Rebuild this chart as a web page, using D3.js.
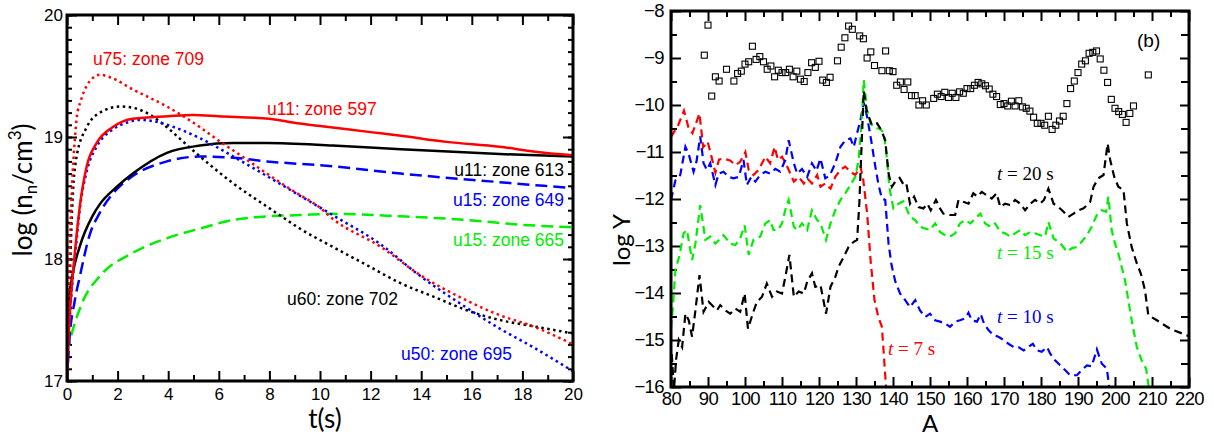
<!DOCTYPE html>
<html>
<head>
<meta charset="utf-8">
<script src="https://cdn.jsdelivr.net/npm/d3@7"></script>
<style>
  body { margin: 0; background: #fff; }
</style>
</head>
<body>
<div id="container"></div>
<script>
/* DATA: left panel, log neutron density vs time, [t (s), log n] */
const u11zone597 = [[0,17.0],[0.05,17.3],[0.12,17.58],[0.2,17.8],[0.32,18.07],[0.5,18.42],[0.78,18.76],[1.17,18.95],[1.8,19.08],[2.6,19.15],[4,19.17],[5,19.18],[6,19.17],[8,19.15],[9.2,19.11],[10,19.09],[12,19.04],[13.2,19.01],[15,18.96],[17.1,18.92],[18.5,18.88],[20,18.85]];
const u75zone709 = [[0,17.0],[0.05,17.5],[0.1,18.0],[0.2,18.6],[0.3,18.95],[0.38,19.15],[0.55,19.3],[0.78,19.42],[1.0,19.48],[1.3,19.51],[1.7,19.49],[2.6,19.39],[3.95,19.25],[5.26,19.08],[6,18.97],[7,18.83],[7.9,18.7],[9,18.55],[10,18.42],[10.5,18.33],[12.4,18.1],[13.95,17.87],[15.8,17.66],[17.1,17.54],[18.4,17.45],[20,17.3]];
const u60zone702 = [[0,17.0],[0.05,17.4],[0.1,17.75],[0.2,18.4],[0.38,18.84],[0.78,19.08],[1.3,19.2],[2.1,19.25],[2.6,19.24],[3.3,19.18],[3.95,19.08],[4.6,18.96],[5.26,18.84],[6.57,18.62],[7.9,18.43],[8.4,18.36],[9.2,18.25],[10.5,18.1],[11.85,17.95],[13.2,17.8],[14.5,17.69],[15.8,17.58],[17.1,17.5],[18.4,17.45],[20,17.39]];
const u50zone695 = [[0,17.0],[0.05,17.3],[0.12,17.55],[0.2,17.78],[0.32,18.03],[0.5,18.4],[0.78,18.72],[1.17,18.92],[1.8,19.06],[2.4,19.12],[2.9,19.14],[3.4,19.13],[3.95,19.1],[5.26,18.99],[6.57,18.84],[7.9,18.68],[9.2,18.52],[10.5,18.36],[12.4,18.12],[13.9,17.87],[15.8,17.6],[17.1,17.43],[18.4,17.28],[20,17.08]];
const u11zone613 = [[0,17.0],[0.05,17.6],[0.2,17.85],[0.5,18.1],[1.0,18.35],[1.3,18.45],[1.96,18.59],[2.6,18.7],[3.95,18.87],[5.26,18.93],[6.57,18.95],[7.9,18.95],[10.5,18.93],[13.2,18.9],[17.1,18.86],[20,18.84]];
const u15zone649 = [[0,17.0],[0.1,17.35],[0.3,17.65],[0.5,17.85],[0.9,18.2],[1.3,18.38],[1.96,18.57],[2.6,18.68],[3.95,18.8],[5.26,18.84],[6.57,18.83],[7.9,18.8],[10.5,18.76],[13.2,18.7],[17.1,18.63],[20,18.58]];
const u15zone665 = [[0,17.23],[0.19,17.39],[0.64,17.66],[1.3,17.86],[2.6,18.05],[3.95,18.17],[5.26,18.25],[6.57,18.32],[7.9,18.35],[9.2,18.36],[10.5,18.37],[13.2,18.35],[15.8,18.32],[18,18.28],[20,18.26]];

/* DATA: right panel, log Y vs mass number A */
const obsA = [89,90,91,92,93,95,97,98,99,100,101,102,103,104,105,106,107,108,109,110,111,112,113,114,115,116,117,118,119,120,121,122,123,125,126,127,128,129,131,132,133,134,135,137,138,139,140,141,142,143,144,145,146,147,148,149,151,152,153,154,155,156,157,158,159,160,161,162,163,164,165,166,167,168,169,170,171,172,173,174,175,176,177,178,179,180,181,182,183,184,185,186,187,188,189,190,191,192,193,194,195,196,197,198,199,200,201,202,203,204,205,209];
const obsLogY = [-8.94,-8.30,-9.81,-9.40,-9.49,-9.24,-9.49,-9.33,-9.28,-9.13,-9.08,-8.75,-9.03,-8.97,-9.08,-9.24,-9.17,-9.40,-9.26,-9.31,-9.31,-9.24,-9.40,-9.28,-9.45,-9.50,-9.31,-9.10,-9.20,-9.07,-9.47,-9.52,-9.41,-9.06,-8.77,-8.57,-8.32,-8.39,-8.53,-8.59,-9.00,-8.87,-9.16,-9.27,-8.85,-9.27,-9.29,-9.58,-9.51,-9.67,-9.51,-9.80,-9.80,-10.00,-9.91,-10.00,-9.86,-9.77,-9.82,-9.73,-9.84,-9.75,-9.84,-9.72,-9.75,-9.65,-9.65,-9.58,-9.52,-9.55,-9.59,-9.66,-9.77,-9.82,-9.99,-9.97,-10.02,-9.92,-10.02,-9.91,-10.04,-10.07,-10.13,-10.26,-10.39,-10.39,-10.43,-10.24,-10.52,-10.43,-10.34,-10.24,-9.97,-9.65,-9.49,-9.31,-9.13,-9.06,-8.90,-8.88,-8.85,-9.02,-9.26,-9.52,-9.88,-10.07,-10.14,-10.20,-10.37,-10.18,-10.02,-9.36];

const t7s = [[80,-10.68],[81,-10.55],[82,-10.42],[83.5,-10.12],[84.8,-10.5],[85.8,-10.6],[87.7,-10.18],[88.7,-10.9],[89.9,-10.78],[90.7,-11.02],[92,-11.44],[93,-11.16],[94.2,-11.14],[96,-11.18],[97.4,-11.28],[98.7,-11.21],[100.1,-11.0],[101,-11.38],[102.3,-11.49],[103.7,-11.38],[105.5,-11.1],[106.8,-11.24],[108,-10.89],[108.9,-11.17],[110,-11.1],[111.4,-11.31],[113.2,-11.63],[114.5,-11.53],[115.9,-11.67],[116.8,-11.56],[118.1,-11.67],[119.5,-11.49],[120.4,-11.74],[121.7,-11.67],[123.1,-11.78],[124.4,-11.53],[125.8,-11.38],[127.1,-11.31],[128.5,-11.42],[129.8,-11.49],[131.2,-11.31],[131.9,-11.55],[133,-12.3],[134,-13.36],[135,-14.15],[136,-14.5],[137,-14.72],[138.3,-16.2]];
const t10s = [[80,-12.02],[81.2,-11.6],[82.5,-11.49],[83.9,-10.89],[84.8,-11.05],[86.1,-11.42],[86.9,-11.2],[87.9,-10.67],[88.8,-11.24],[89.7,-11.38],[90.6,-11.24],[92,-11.7],[92.9,-11.46],[94.2,-11.42],[95.6,-11.53],[96.9,-11.56],[98.3,-11.53],[99.6,-11.17],[100.5,-11.7],[101.7,-11.53],[102.8,-11.63],[104.1,-11.49],[105.5,-11.42],[106.8,-11.46],[108.2,-11.36],[109.5,-11.42],[110.9,-11.17],[111.8,-10.75],[113.2,-11.24],[114.1,-11.46],[115.4,-11.36],[116.8,-11.53],[118.1,-11.24],[119.3,-11.4],[120.4,-11.14],[121.7,-11.56],[122.9,-11.5],[124.4,-11.24],[125.8,-10.89],[127.1,-10.75],[128.5,-10.71],[129.4,-10.89],[130.3,-10.6],[131.2,-10.32],[132.1,-9.95],[133,-10.25],[134.1,-10.75],[135.2,-11.3],[136.1,-11.7],[137,-11.99],[137.9,-12.02],[138.8,-12.95],[139.6,-13.4],[140.6,-13.75],[141.9,-14.01],[143.3,-14.15],[144.6,-14.3],[146,-14.15],[147.3,-14.37],[148.7,-14.51],[150,-14.44],[151.4,-14.58],[152.7,-14.61],[154.1,-14.65],[155.4,-14.72],[156.8,-14.61],[158.1,-14.58],[159.5,-14.54],[160.4,-14.42],[161.3,-14.58],[162.7,-14.61],[163.7,-14.45],[164.6,-14.65],[165.8,-14.79],[167.2,-14.9],[168.5,-14.93],[169.9,-15.0],[171.2,-15.08],[172.6,-15.15],[173.9,-15.15],[175.3,-15.22],[176.6,-15.15],[177.8,-15.08],[178.9,-15.22],[180.2,-15.25],[181.6,-15.15],[182.5,-15.29],[183.8,-15.43],[185.2,-15.54],[186.5,-15.64],[187.9,-15.75],[189.7,-15.75],[191,-15.64],[192.4,-15.54],[193.7,-15.56],[195.1,-15.2],[196.4,-15.5],[197.8,-15.61],[198.6,-16.1]];
const t15s = [[80,-14.75],[80.6,-14.2],[81.2,-13.51],[82.3,-13.2],[83.4,-12.73],[84.3,-12.66],[85.7,-13.3],[86.6,-12.95],[87.9,-12.13],[89.3,-12.87],[90.6,-12.8],[92,-12.95],[94.2,-12.77],[96,-12.95],[97.4,-12.98],[98.7,-12.84],[99.9,-12.56],[101,-13.19],[102.3,-12.87],[104.1,-12.8],[105.5,-12.52],[106.8,-12.45],[107.7,-12.66],[108.9,-12.66],[110,-12.52],[111.1,-12.17],[111.8,-12.02],[113.2,-12.59],[114.1,-12.66],[115.4,-12.52],[116.8,-12.66],[118.1,-12.24],[119.5,-12.45],[120.4,-12.52],[121.9,-12.87],[123.1,-12.52],[124.4,-12.24],[125.8,-12.02],[127.1,-11.88],[128.5,-11.7],[129.8,-11.53],[130.7,-11.17],[131.5,-10.4],[132.1,-9.47],[133,-10.11],[133.9,-10.39],[135.2,-10.5],[136.3,-10.5],[137.5,-10.58],[138.4,-11.17],[139,-11.74],[140.1,-12.2],[141.5,-12.1],[142.8,-12.05],[144.6,-12.38],[146,-12.45],[147.3,-12.59],[148.7,-12.63],[150,-12.66],[151.4,-12.52],[152.7,-12.7],[154.1,-12.77],[155.4,-12.8],[156.8,-12.73],[158.1,-12.52],[159.5,-12.45],[160.9,-12.52],[162.2,-12.42],[163.6,-12.31],[164.9,-12.52],[166.3,-12.59],[167.6,-12.52],[169,-12.7],[170.3,-12.73],[171.7,-12.8],[173,-12.73],[174.4,-12.66],[175.7,-12.77],[177.1,-12.7],[178.4,-12.73],[179.8,-12.77],[181.1,-12.8],[182,-12.49],[183.4,-12.84],[184.7,-12.91],[185.6,-12.98],[187,-13.12],[188.3,-13.05],[189.7,-13.02],[191,-12.91],[192.4,-12.77],[193.7,-12.59],[195.1,-12.34],[196.4,-12.24],[197.6,-12.27],[198.2,-11.95],[199.1,-12.66],[200,-12.95],[200.9,-13.16],[201.8,-13.44],[202.7,-13.73],[203.6,-14.15],[204.5,-14.58],[205.9,-15.15],[207.2,-15.43],[208.4,-15.61],[209.3,-16.1]];
const t20s = [[80.2,-15.3],[80.8,-16.05],[81.4,-15.4],[82.1,-15.0],[83,-15.15],[83.9,-14.44],[84.8,-14.58],[85.7,-14.93],[86.6,-14.37],[87.7,-13.62],[88.8,-14.4],[90.2,-14.19],[91.1,-14.26],[92.4,-14.37],[93.3,-14.26],[94.7,-14.37],[96,-14.44],[97.4,-14.33],[98.7,-14.4],[99.9,-14.01],[100.8,-14.76],[102.1,-14.44],[103.2,-14.19],[104.6,-14.08],[105.9,-13.8],[107.3,-14.08],[108.6,-13.97],[110,-14.01],[110.9,-13.66],[112,-13.19],[113.2,-14.08],[114.5,-13.97],[115.9,-14.01],[116.8,-13.76],[118.1,-13.58],[119,-13.87],[120.4,-13.83],[121.9,-14.44],[123.1,-13.87],[124.4,-13.66],[125.3,-13.44],[126.7,-13.23],[128,-13.02],[129.4,-12.91],[130.3,-12.87],[130.9,-12.09],[131.6,-10.67],[132.1,-9.7],[132.8,-10.1],[134.3,-10.43],[135.7,-10.39],[136.8,-10.53],[137.9,-10.75],[138.8,-11.46],[139.7,-11.74],[140.6,-11.63],[141.8,-11.55],[142.9,-11.7],[143.6,-11.67],[144.6,-12.1],[145.7,-11.95],[146.9,-12.17],[148.2,-12.2],[149.3,-12.1],[150.2,-12.24],[151.6,-12.02],[152.7,-12.2],[153.6,-12.31],[155.4,-12.34],[156.8,-12.34],[157.7,-12.02],[159,-12.06],[160.4,-12.1],[161.7,-11.88],[162.8,-11.95],[164,-11.85],[165.3,-11.92],[166.7,-11.99],[168,-11.88],[169,-12.17],[170.3,-12.1],[171.7,-12.13],[173,-12.02],[174.4,-12.1],[175.7,-12.24],[177.1,-12.1],[178.4,-12.02],[179.8,-12.1],[180.8,-12.02],[182,-11.78],[183.4,-12.1],[184.7,-12.17],[186.1,-12.27],[187.4,-12.38],[188.8,-12.31],[190.1,-12.24],[191.5,-12.2],[193.3,-12.06],[194.2,-11.74],[195.5,-11.56],[196.9,-11.49],[198,-10.82],[198.7,-11.17],[199.8,-11.53],[200.9,-11.74],[202.3,-11.81],[203.2,-12.52],[204.5,-13.02],[205.9,-13.37],[207,-13.59],[208.1,-13.94],[209,-14.47],[211.3,-14.58],[214.9,-14.76],[220,-14.92]];

/* tick values */
const leftXTicks = d3.range(0, 21, 2);
const leftXMinor = d3.range(1, 20, 2);
const leftYTicks = [17, 18, 19, 20];
const leftYMinor = d3.range(17, 20.001, 0.1);
const rightXTicks = d3.range(80, 221, 10);
const rightXMinor = d3.range(85, 220, 10);
const rightYTicks = d3.range(-16, -7, 1);
const rightYMinor = d3.range(-15.5, -8, 1);

const RED = '#ff0000', BLUE = '#0000ff', GREEN = '#00ee00', BLACK = '#000';

const svg = d3.select('#container')
  .append('svg')
  .attr('width', 1214)
  .attr('height', 439)
  .style('font-family', '"Liberation Sans", Arial, sans-serif');

// Panel boxes (pixel extents)
const L = { x0: 67, x1: 573, y0: 15, y1: 381 };
const R = { x0: 671, x1: 1189, y0: 11, y1: 387 };

const xL = d3.scaleLinear().domain([0, 20]).range([L.x0, L.x1]);
const yL = d3.scaleLinear().domain([17, 20]).range([L.y1, L.y0]);
const xR = d3.scaleLinear().domain([80, 220]).range([R.x0, R.x1]);
const yR = d3.scaleLinear().domain([-16, -8]).range([R.y1, R.y0]);

// clip paths
const defs = svg.append('defs');
defs.append('clipPath').attr('id', 'clipL').append('rect')
  .attr('x', L.x0).attr('y', L.y0).attr('width', L.x1 - L.x0).attr('height', L.y1 - L.y0);
defs.append('clipPath').attr('id', 'clipR').append('rect')
  .attr('x', R.x0).attr('y', R.y0).attr('width', R.x1 - R.x0).attr('height', R.y1 - R.y0);

const intFmt = d3.format('d');

// draw one axis side with ticks pointing inward
function side(axisFn, scale, tr, values, size, labels, fontSize, pad) {
  const ax = axisFn(scale).tickValues(values).tickSizeInner(-size).tickSizeOuter(0).tickPadding(pad || 4);
  ax.tickFormat(labels ? intFmt : '');
  const g = svg.append('g').attr('transform', tr).call(ax);
  g.select('.domain').remove();
  g.attr('font-family', '"Liberation Sans", Arial, sans-serif').attr('font-size', fontSize);
  g.selectAll('line').attr('stroke', '#000').attr('stroke-width', 2);
  g.selectAll('text').attr('fill', '#000');
  return g;
}

/* ---- LEFT PANEL ---- */
side(d3.axisBottom, xL, `translate(0,${L.y1})`, leftXTicks, 10, true, 17, 7);
side(d3.axisBottom, xL, `translate(0,${L.y1})`, leftXMinor, 6, false, 17);
side(d3.axisTop, xL, `translate(0,${L.y0})`, leftXTicks, 10, false, 17);
side(d3.axisTop, xL, `translate(0,${L.y0})`, leftXMinor, 6, false, 17);
side(d3.axisLeft, yL, `translate(${L.x0},0)`, leftYTicks, 10, true, 17, 4);
side(d3.axisLeft, yL, `translate(${L.x0},0)`, leftYMinor, 5, false, 17);
side(d3.axisRight, yL, `translate(${L.x1},0)`, leftYTicks, 10, false, 17);
side(d3.axisRight, yL, `translate(${L.x1},0)`, leftYMinor, 5, false, 17);

const lineL = d3.line().x(d => xL(d[0])).y(d => yL(d[1])).curve(d3.curveMonotoneX);
const gL = svg.append('g').attr('clip-path', 'url(#clipL)');

const leftSeries = [
  { data: u15zone665, color: GREEN, dash: '12,6' },
  { data: u15zone649, color: BLUE, dash: '12,6' },
  { data: u11zone613, color: BLACK, dash: null },
  { data: u60zone702, color: BLACK, dash: '2.5,3.5' },
  { data: u50zone695, color: BLUE, dash: '2.5,3.5' },
  { data: u75zone709, color: RED, dash: '2.5,3.5' },
  { data: u11zone597, color: RED, dash: null }
];
leftSeries.forEach(s => {
  gL.append('path')
    .datum(s.data)
    .attr('d', lineL)
    .attr('fill', 'none')
    .attr('stroke', s.color)
    .attr('stroke-width', 2.5)
    .attr('stroke-dasharray', s.dash);
});

svg.append('rect')
  .attr('x', L.x0).attr('y', L.y0)
  .attr('width', L.x1 - L.x0).attr('height', L.y1 - L.y0)
  .attr('fill', 'none').attr('stroke', '#000').attr('stroke-width', 3);

// curve labels
const leftLabels = [
  { text: 'u75: zone 709', x: 93, y: 65, color: RED, anchor: 'start' },
  { text: 'u11: zone 597', x: 267, y: 115, color: RED, anchor: 'start' },
  { text: 'u11: zone 613', x: 564, y: 176, color: BLACK, anchor: 'end' },
  { text: 'u15: zone 649', x: 564, y: 206, color: BLUE, anchor: 'end' },
  { text: 'u15: zone 665', x: 564, y: 246, color: GREEN, anchor: 'end' },
  { text: 'u60: zone 702', x: 287, y: 305, color: BLACK, anchor: 'start' },
  { text: 'u50: zone 695', x: 401, y: 360, color: BLUE, anchor: 'start' }
];
svg.selectAll('.clabel')
  .data(leftLabels)
  .enter()
  .append('text')
  .attr('class', 'clabel')
  .attr('x', d => d.x)
  .attr('y', d => d.y)
  .attr('text-anchor', d => d.anchor)
  .attr('fill', d => d.color)
  .attr('font-size', 17.5)
  .text(d => d.text);

// axis titles
const yTitle = svg.append('text')
  .attr('transform', 'translate(32,190) rotate(-90)')
  .attr('text-anchor', 'middle')
  .attr('font-family', 'Lato, "Open Sans", sans-serif')
  .attr('font-size', 26);
yTitle.append('tspan').text('log (n');
yTitle.append('tspan').attr('font-size', 17).attr('dy', 5).text('n');
yTitle.append('tspan').attr('dy', -5).text('/cm');
yTitle.append('tspan').attr('font-size', 17).attr('dy', -11).text('3');
yTitle.append('tspan').attr('dy', 11).text(')');

svg.append('text')
  .attr('x', 325).attr('y', 428)
  .attr('text-anchor', 'middle')
  .attr('font-family', 'Lato, "Open Sans", sans-serif')
  .attr('font-size', 26)
  .text('t(s)');

/* ---- RIGHT PANEL ---- */
side(d3.axisBottom, xR, `translate(0,${R.y1})`, rightXTicks, 10, true, 18.5, 5)
  .selectAll('text').attr('letter-spacing', -0.6);
side(d3.axisBottom, xR, `translate(0,${R.y1})`, rightXMinor, 6, false, 18);
side(d3.axisTop, xR, `translate(0,${R.y0})`, rightXTicks, 10, false, 18);
side(d3.axisTop, xR, `translate(0,${R.y0})`, rightXMinor, 6, false, 18);
side(d3.axisLeft, yR, `translate(${R.x0},0)`, rightYTicks, 10, true, 18.5, 7)
  .selectAll('text').attr('letter-spacing', -0.6);
side(d3.axisLeft, yR, `translate(${R.x0},0)`, rightYMinor, 6, false, 18);
side(d3.axisRight, yR, `translate(${R.x1},0)`, rightYTicks, 9, false, 18);
side(d3.axisRight, yR, `translate(${R.x1},0)`, rightYMinor, 8, false, 18);

const gR = svg.append('g').attr('clip-path', 'url(#clipR)');
const lineR = d3.line().x(d => xR(d[0])).y(d => yR(d[1]));

const rightSeries = [
  { data: t7s, color: RED },
  { data: t10s, color: BLUE },
  { data: t15s, color: GREEN },
  { data: t20s, color: BLACK }
];
rightSeries.forEach(s => {
  gR.append('path')
    .datum(s.data)
    .attr('d', lineR)
    .attr('fill', 'none')
    .attr('stroke', s.color)
    .attr('stroke-width', 2.2)
    .attr('stroke-dasharray', '8,5');
});

// observed abundances (squares)
gR.selectAll('.obs')
  .data(obsA.map((a, i) => [a, obsLogY[i]]))
  .enter()
  .append('rect')
  .attr('class', 'obs')
  .attr('x', d => xR(d[0]) - 3)
  .attr('y', d => yR(d[1]) - 3)
  .attr('width', 6)
  .attr('height', 6)
  .attr('fill', 'none')
  .attr('stroke', '#000')
  .attr('stroke-width', 1.1);

svg.append('rect')
  .attr('x', R.x0).attr('y', R.y0)
  .attr('width', R.x1 - R.x0).attr('height', R.y1 - R.y0)
  .attr('fill', 'none').attr('stroke', '#000').attr('stroke-width', 3);

// time annotations
const timeLabels = [
  { t: '20', x: 997, y: 180, color: BLACK },
  { t: '15', x: 997, y: 259, color: GREEN },
  { t: '10', x: 997, y: 323, color: BLUE },
  { t: '7', x: 888, y: 355, color: RED }
];
timeLabels.forEach(d => {
  const tx = svg.append('text')
    .attr('x', d.x).attr('y', d.y)
    .attr('fill', d.color)
    .attr('font-family', '"Liberation Serif", "Times New Roman", serif')
    .attr('font-size', 19);
  tx.append('tspan').attr('font-style', 'italic').text('t');
  tx.append('tspan').text(` = ${d.t} s`);
});

svg.append('text')
  .attr('x', 1137).attr('y', 47)
  .attr('font-size', 19)
  .text('(b)');

svg.append('text')
  .attr('transform', 'translate(630,240) rotate(-90)')
  .attr('text-anchor', 'middle')
  .attr('font-family', 'Lato, "Open Sans", sans-serif')
  .attr('font-size', 24)
  .text('log Y');

svg.append('text')
  .attr('x', 930).attr('y', 432)
  .attr('text-anchor', 'middle')
  .attr('font-family', 'Lato, "Open Sans", sans-serif')
  .attr('font-size', 24)
  .text('A');
</script>
</body>
</html>
